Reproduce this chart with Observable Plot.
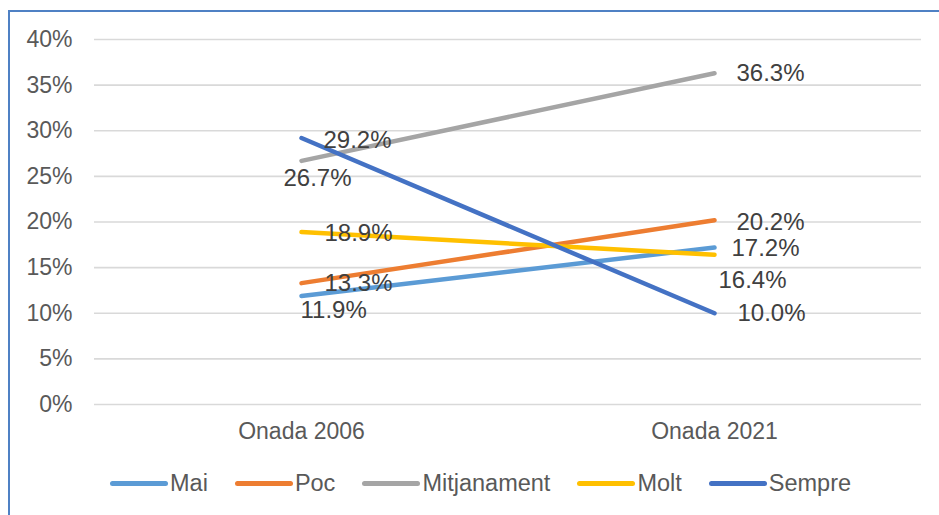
<!DOCTYPE html>
<html>
<head>
<meta charset="utf-8">
<script src="https://cdn.jsdelivr.net/npm/d3@7"></script>
<script src="https://cdn.jsdelivr.net/npm/@observablehq/plot@0.6"></script>
<style>
  html, body { margin: 0; padding: 0; background: #fff; overflow: hidden; }
  body { width: 939px; height: 515px; position: relative; font-family: "Liberation Sans", Arial, sans-serif; }
  #chart { position: absolute; left: 0; top: 0; }
  #frame { position: absolute; left: 8px; top: 10px; width: 1000px; height: 600px; border: 2px solid #4f81c4; box-sizing: border-box; pointer-events: none; }
  #legend { position: absolute; left: 110px; top: 466px; height: 34px; display: flex; align-items: center; font-size: 23.5px; color: #595959; white-space: nowrap; }
  .item { display: flex; align-items: center; margin-right: 27px; }
  .sw { width: 58px; height: 5px; border-radius: 3px; margin-right: 2px; }
</style>
</head>
<body>
<div id="chart"></div>
<div id="frame"></div>
<div id="legend"></div>
<script>
// ---- data ----
const waves = ["Onada 2006", "Onada 2021"];
const seriesNames = ["Mai", "Poc", "Mitjanament", "Molt", "Sempre"];
const mai = [11.9, 17.2];
const poc = [13.3, 20.2];
const mitjanament = [26.7, 36.3];
const molt = [18.9, 16.4];
const sempre = [29.2, 10.0];
const yTicks = [0, 5, 10, 15, 20, 25, 30, 35, 40];
const colors = ["#5b9bd5", "#ed7d31", "#a5a5a5", "#ffc000", "#4472c4"];

const seriesValues = [mai, poc, mitjanament, molt, sempre];
const rows = [];
seriesNames.forEach((s, i) => waves.forEach((w, j) => rows.push({series: s, wave: w, value: seriesValues[i][j]})));

// label placement (pixel offsets from the point)
const labelOffsets = {
  "Onada 2006": {Mai: [-1, 14], Poc: [23, 0], Mitjanament: [-18, 17], Molt: [23, 1], Sempre: [22, 2]},
  "Onada 2021": {Mai: [17, 1], Poc: [22, 2], Mitjanament: [22, 0], Molt: [4, 25], Sempre: [23, 0]}
};

const labelMarks = rows.map(r => Plot.text([r], {
  x: "wave", y: "value",
  text: d => d.value.toFixed(1) + "%",
  dx: labelOffsets[r.wave][r.series][0],
  dy: labelOffsets[r.wave][r.series][1],
  textAnchor: "start", lineAnchor: "middle",
  fontSize: 24, fill: "#404040"
}));

const chart = Plot.plot({
  width: 939,
  height: 460,
  marginLeft: 94,
  marginRight: 18,
  marginTop: 39,
  marginBottom: 56,
  style: {fontFamily: "'Liberation Sans', Arial, sans-serif", background: "transparent", overflow: "visible"},
  x: {type: "point", domain: waves, padding: 0.5, label: null},
  y: {domain: [0, 40], label: null},
  color: {domain: seriesNames, range: colors},
  marks: [
    Plot.gridY(yTicks, {stroke: "#d9d9d9", strokeOpacity: 1, strokeWidth: 1.6}),
    Plot.axisY(yTicks, {tickSize: 0, tickPadding: 22, fontSize: 23, fill: "#595959", tickFormat: d => d + "%", label: null}),
    Plot.axisX({tickSize: 0, tickPadding: 18, fontSize: 23, fill: "#595959", label: null}),
    Plot.line(rows, {x: "wave", y: "value", z: "series", stroke: "series", strokeWidth: 4.5, strokeLinecap: "round"}),
    ...labelMarks
  ]
});
document.getElementById("chart").appendChild(chart);

// legend
const legend = document.getElementById("legend");
seriesNames.forEach((s, i) => {
  const item = document.createElement("div");
  item.className = "item";
  const sw = document.createElement("div");
  sw.className = "sw";
  sw.style.background = colors[i];
  const t = document.createElement("span");
  t.textContent = s;
  item.appendChild(sw);
  item.appendChild(t);
  legend.appendChild(item);
});
</script>
</body>
</html>
